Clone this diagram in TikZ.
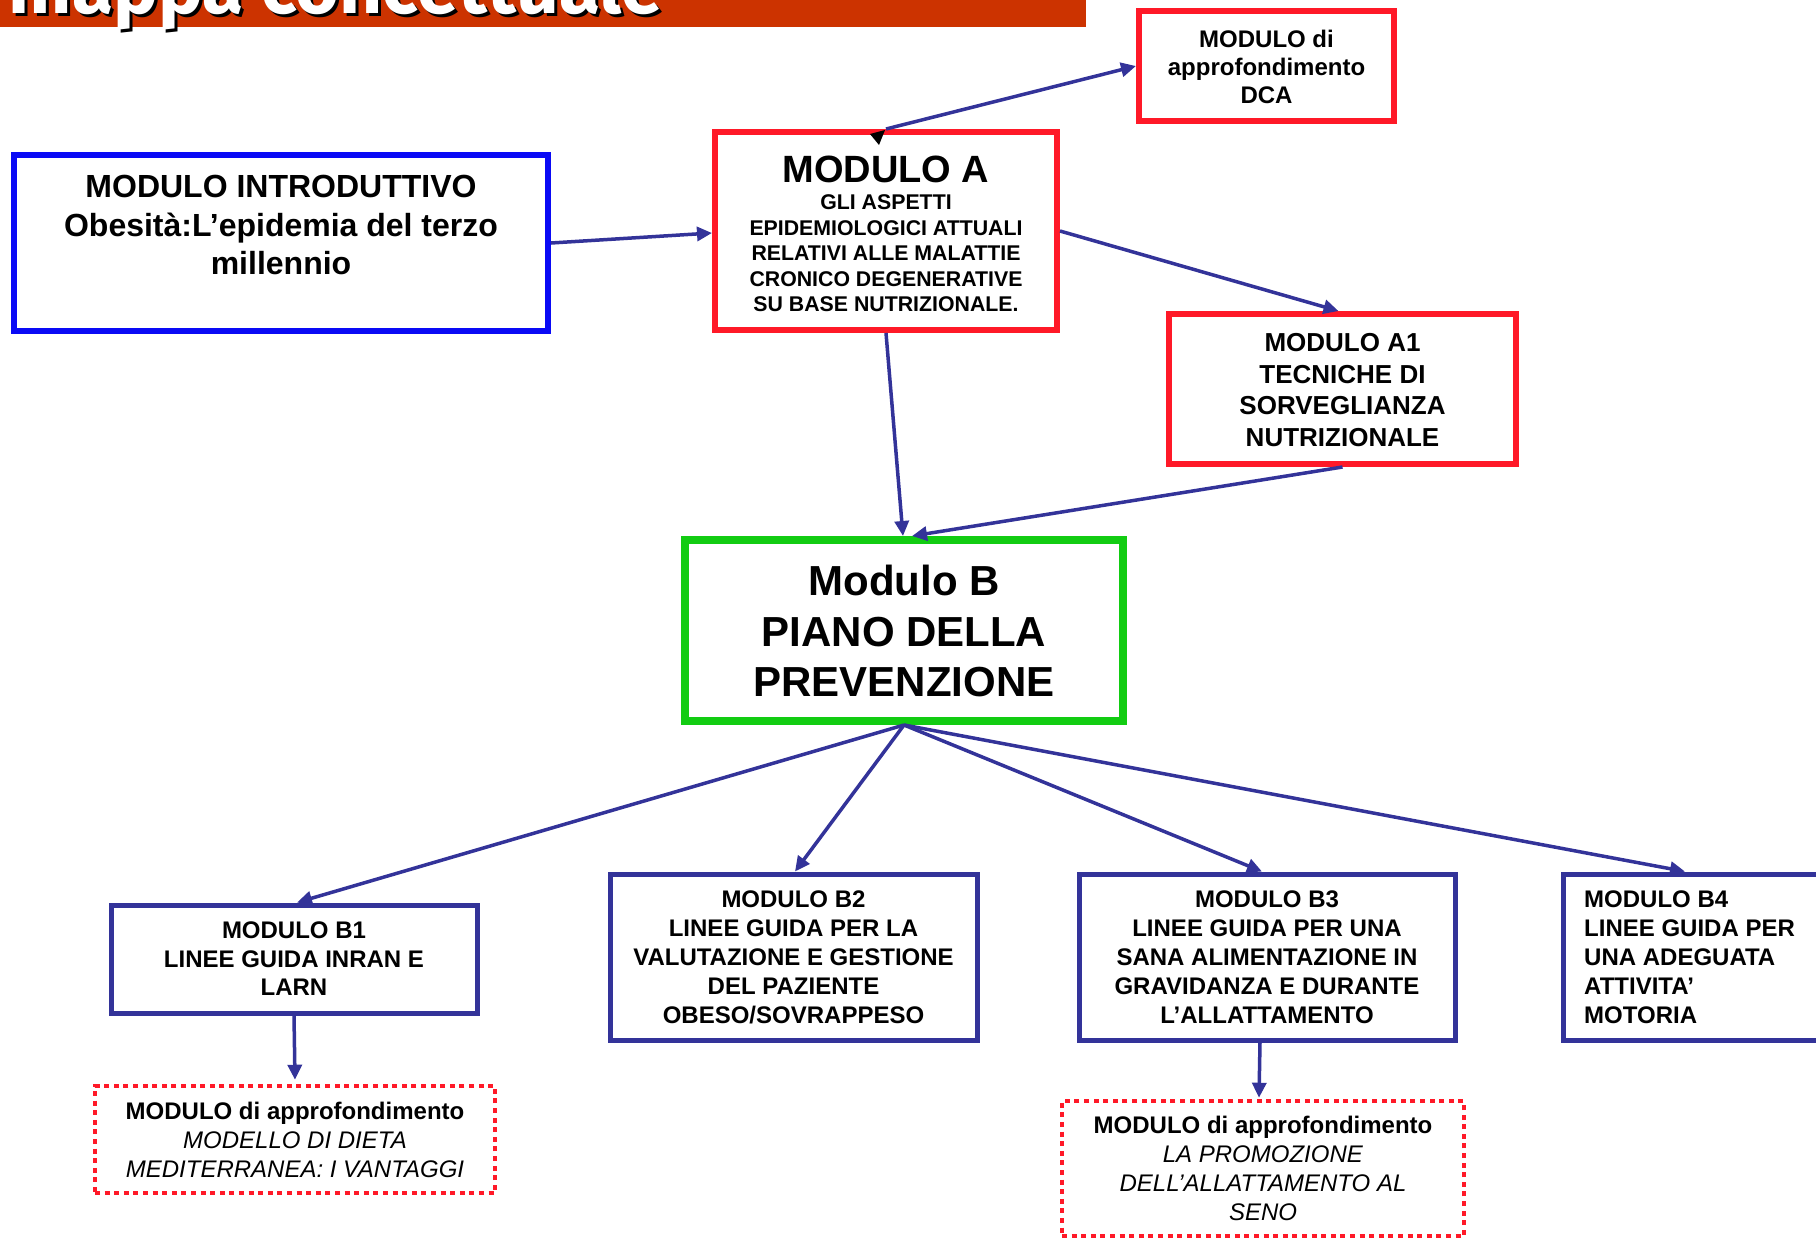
\documentclass[tikz,border=0pt]{standalone}
\usepackage{fontspec}
\setmainfont{Liberation Sans}
\newfontfamily\titlefont{Fira Sans}
\usetikzlibrary{arrows.meta}
\definecolor{cred}{RGB}{255,25,40}
\definecolor{cblue}{RGB}{10,10,245}
\definecolor{cgreen}{RGB}{18,204,18}
\definecolor{navy}{RGB}{51,51,153}
\definecolor{titlebar}{RGB}{204,51,0}
\begin{document}
\begin{tikzpicture}[x=1pt,y=-1pt,
  box/.style={draw, rectangle, inner sep=0pt, fill=white},
  redbox/.style={box, draw=cred, line width=6pt},
  bluebox/.style={box, draw=cblue, line width=6pt},
  greenbox/.style={box, draw=cgreen, line width=8pt},
  navybox/.style={box, draw=navy, line width=5pt},
  dotbox/.style={box, draw=cred, line width=4.5pt, dash pattern=on 5pt off 4.6pt},
  txt/.style={align=center, inner sep=0pt, text=black},
  conn/.style={draw=navy, line width=3.5pt, -{Triangle[length=15pt,width=14pt]}},
  titletxt/.style={anchor=base east, inner sep=0pt, font=\titlefont\bfseries\fontsize{75}{80}\selectfont}
]
\useasboundingbox (0,0) rectangle (1816,1240);
\clip (0,0) rectangle (1816,1240);

% title bar
\fill[titlebar] (0,0) rectangle (1086,27);
\node[titletxt, text=black] (titleshadow) at (666,16) {mappa concettuale};
\node[titletxt, text=white] (title) at (663,13) {mappa concettuale};

% boxes
\node[redbox, minimum width=255pt, minimum height=110pt] (dca) at (1266.5,66) {};
\node[redbox, minimum width=342pt, minimum height=198pt] (modA) at (886,231) {};
\node[bluebox, minimum width=534pt, minimum height=176pt] (intro) at (281,243) {};
\node[redbox, minimum width=347pt, minimum height=150pt] (a1) at (1342.5,389) {};
\node[greenbox, minimum width=438pt, minimum height=181pt] (modB) at (904,630.5) {};
\node[navybox, minimum width=366pt, minimum height=108pt] (b1) at (294,959) {};
\node[navybox, minimum width=367pt, minimum height=166pt] (b2) at (793.5,957) {};
\node[navybox, minimum width=376pt, minimum height=166pt] (b3) at (1267,957) {};
\node[navybox, minimum width=259pt, minimum height=166pt] (b4) at (1692.5,957) {};
\node[dotbox, minimum width=400pt, minimum height=107pt] (dot1) at (295,1139.5) {};
\node[dotbox, minimum width=402pt, minimum height=135pt] (dot2) at (1263,1168.5) {};

% texts
\node[txt, font=\bfseries\fontsize{24}{28}\selectfont] (dcatext) at (1266.5,66.5)
  {MODULO di\\approfondimento\\DCA};
\node[txt, anchor=base, font=\bfseries\fontsize{38}{44}\selectfont] (modAtitle) at (886,182) {MODULO A};
\node[txt, font=\bfseries\fontsize{21.3}{25.5}\selectfont] (modAbody) at (886,253.5)
  {GLI ASPETTI\\EPIDEMIOLOGICI ATTUALI\\RELATIVI ALLE MALATTIE\\CRONICO DEGENERATIVE\\SU BASE NUTRIZIONALE.};
\node[txt, font=\bfseries\fontsize{32}{38.5}\selectfont] (introtext) at (281,225)
  {MODULO INTRODUTTIVO\\Obesità:L’epidemia del terzo\\millennio};
\node[txt, font=\bfseries\fontsize{26}{31.7}\selectfont] (a1text) at (1342.5,390)
  {MODULO A1\\TECNICHE DI\\SORVEGLIANZA\\NUTRIZIONALE};
\node[txt, font=\bfseries\fontsize{42}{50.5}\selectfont] (modBtext) at (904,631)
  {Modulo B\\PIANO DELLA\\PREVENZIONE};
\node[txt, font=\bfseries\fontsize{24}{28.5}\selectfont] (b1text) at (294,959)
  {MODULO B1\\LINEE GUIDA INRAN E\\LARN};
\node[txt, font=\bfseries\fontsize{24}{29}\selectfont] (b2text) at (793.5,957)
  {MODULO B2\\LINEE GUIDA PER LA\\VALUTAZIONE E GESTIONE\\DEL PAZIENTE\\OBESO/SOVRAPPESO};
\node[txt, font=\bfseries\fontsize{24}{29}\selectfont] (b3text) at (1267,957)
  {MODULO B3\\LINEE GUIDA PER UNA\\SANA ALIMENTAZIONE IN\\GRAVIDANZA E DURANTE\\L’ALLATTAMENTO};
\node[txt, align=left, anchor=west, font=\bfseries\fontsize{24}{29}\selectfont] (b4text) at (1584,957)
  {MODULO B4\\LINEE GUIDA PER\\UNA ADEGUATA\\ATTIVITA’\\MOTORIA};
\node[txt, font=\fontsize{24}{29}\selectfont] (dot1text) at (295,1140)
  {\textbf{MODULO di approfondimento}\\\textit{MODELLO DI DIETA}\\\textit{MEDITERRANEA: I VANTAGGI}};
\node[txt, font=\fontsize{24}{29}\selectfont] (dot2text) at (1263,1168)
  {\textbf{MODULO di approfondimento}\\\textit{LA PROMOZIONE}\\\textit{DELL’ALLATTAMENTO AL}\\\textit{SENO}};

% connectors
\draw[conn] (intro.east) -- ([yshift=-2pt]modA.west);
\draw[conn] (modA.north) -- (dca.west);
\fill[black] ([shift={(-16pt,-5pt)}]modA.north) -- ([shift={(-1pt,-1pt)}]modA.north) -- ([shift={(-7pt,-16pt)}]modA.north) -- cycle;
\draw[conn] (modA.east) -- ([xshift=-4pt]a1.north);
\draw[conn] (modA.south) -- ([xshift=-1pt]modB.north);
\draw[conn] (a1.south) -- ([xshift=8pt]modB.north);
\draw[conn] (modB.south) -- ([xshift=3pt]b1.north);
\draw[conn] (modB.south) -- ([xshift=1.5pt]b2.north);
\draw[conn] (modB.south) -- ([xshift=-5pt]b3.north);
\draw[conn] (modB.south) -- ([xshift=-7.5pt]b4.north);
\draw[conn] (b1.south) -- ([yshift=4pt]dot1.north);
\draw[conn] ([xshift=-7pt]b3.south) -- ([xshift=-4pt,yshift=1pt]dot2.north);
\end{tikzpicture}
\end{document}
